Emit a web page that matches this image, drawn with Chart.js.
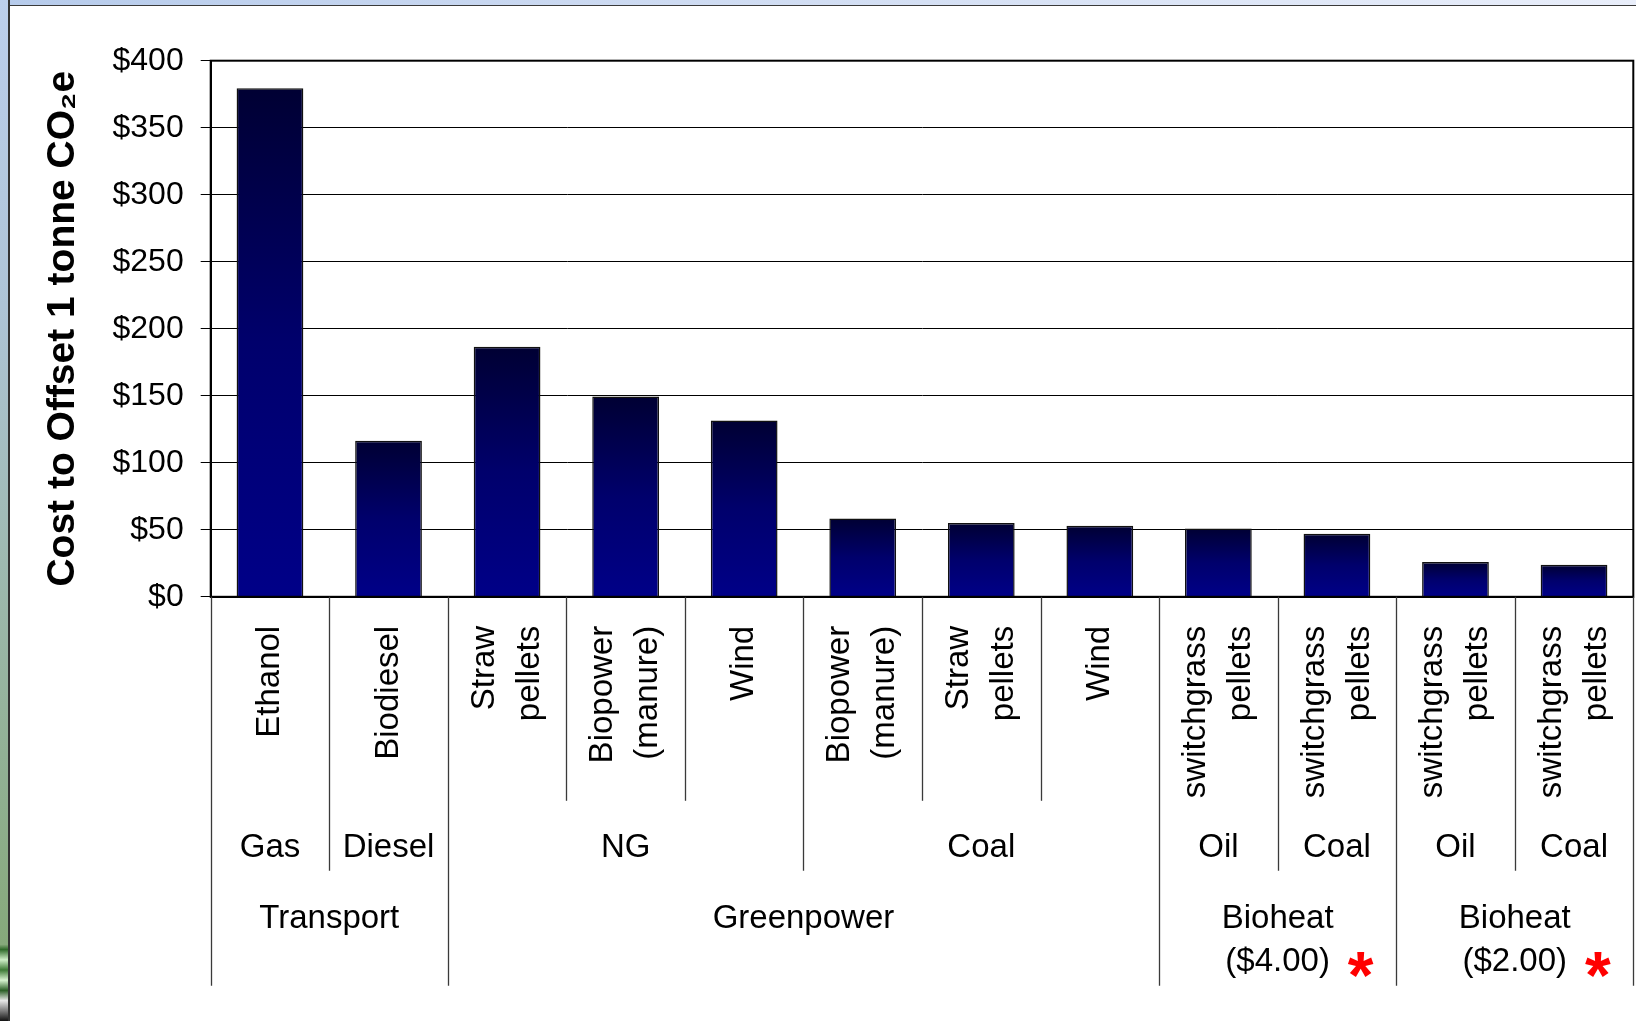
<!DOCTYPE html>
<html lang="en">
  <head>
    <meta charset="UTF-8" />
    <title>Cost to Offset 1 tonne CO2e</title>
    <script src="https://cdn.jsdelivr.net/npm/chart.js"></script>
    <style>
        html, body {
            margin: 0;
            padding: 0;
        }
        body {
            width: 1636px;
            height: 1021px;
            position: relative;
            overflow: hidden;
            background: #fff;
        }
        .slide-top {
            position: absolute;
            left: 0;
            top: 0;
            width: 1636px;
            height: 5px;
            background: linear-gradient(90deg, #b6cbeb 0%, #cbd9f1 35%, #e9eefa 100%);
            border-bottom: 1.5px solid #3a3a3a;
        }
        .slide-left {
            position: absolute;
            left: 0;
            top: 0;
            width: 8px;
            height: 1021px;
            background: linear-gradient(180deg, #bccfec 0%, #aec4d6 30%, #9bb7a9 60%, #86a97b 92.5%,
                #2f6a2a 93%, #cfeec8 94%, #3d7a35 95%, #d8f3d0 96%, #2b5f26 97%, #e8e8e8 98%, #111 100%);
            border-right: 2px solid #333;
        }
        .chart-box {
            position: absolute;
            left: 0;
            top: 0;
            width: 1636px;
            height: 1021px;
        }
    </style>
  </head>

  <body>
    <div class="slide-top"></div>
    <div class="slide-left"></div>
    <div class="chart-box">
        <canvas id="offsetChart"></canvas>
    </div>

    <script>
        // Chart data
        const products = [
            ['Ethanol'], ['Biodiesel'],
            ['Straw', 'pellets'], ['Biopower', '(manure)'], ['Wind'],
            ['Biopower', '(manure)'], ['Straw', 'pellets'], ['Wind'],
            ['switchgrass', 'pellets'], ['switchgrass', 'pellets'],
            ['switchgrass', 'pellets'], ['switchgrass', 'pellets']
        ];
        const fuels = ['Gas', 'Diesel', 'NG', 'NG', 'NG', 'Coal', 'Coal', 'Coal', 'Oil', 'Coal', 'Oil', 'Coal'];
        const sectors = [
            'Transport', 'Transport',
            'Greenpower', 'Greenpower', 'Greenpower', 'Greenpower', 'Greenpower', 'Greenpower',
            'Bioheat\n($4.00)', 'Bioheat\n($4.00)', 'Bioheat\n($2.00)', 'Bioheat\n($2.00)'
        ];
        const starredSectors = ['Bioheat\n($4.00)', 'Bioheat\n($2.00)'];
        const costs = [379.5, 116.5, 186.5, 149.5, 131.5, 58.5, 55, 53, 51, 47, 26, 24];
        const yTicks = [0, 50, 100, 150, 200, 250, 300, 350, 400];

        const FONT = '"Liberation Sans", Arial, sans-serif';
        Chart.defaults.font.family = FONT;
        Chart.defaults.color = '#000';

        // group neighbouring categories that share a key
        function spans(keys) {
            const out = [];
            keys.forEach((k, i) => {
                const last = out[out.length - 1];
                if (last && last.key === k) last.end = i;
                else out.push({ key: k, start: i, end: i });
            });
            return out;
        }
        const fuelKeys = fuels.map((f, i) => sectors[i] + '|' + f);

        // dark-top to navy-bottom fill, one gradient per bar
        function barFill(context) {
            const chart = context.chart;
            const y = chart.scales.y;
            if (!chart.chartArea || !y) return '#000080';
            const top = y.getPixelForValue(context.raw);
            const base = y.getPixelForValue(0);
            const g = chart.ctx.createLinearGradient(0, top, 0, base);
            g.addColorStop(0, '#000033');
            g.addColorStop(0.5, '#00006c');
            g.addColorStop(1, '#000088');
            return g;
        }

        // plot outline
        const plotFrame = {
            id: 'plotFrame',
            afterDraw(chart) {
                const { ctx, chartArea: a } = chart;
                ctx.save();
                ctx.strokeStyle = '#000';
                ctx.lineWidth = 2;
                ctx.strokeRect(a.left, a.top, a.right - a.left, a.bottom - a.top);
                ctx.restore();
            }
        };

        // Excel-like multi-level category axis
        const categoryAxis = {
            id: 'categoryAxis',
            afterDraw(chart) {
                const { ctx, scales: { x } } = chart;
                const n = products.length;
                const base = chart.chartArea.bottom;
                const step = x.getPixelForValue(1) - x.getPixelForValue(0);
                const edge = i => x.getPixelForValue(0) + (i - 0.5) * step;
                const depth = [base + 204, base + 274, base + 389];

                ctx.save();
                ctx.strokeStyle = '#3a3a3a';
                ctx.lineWidth = 1.3;
                for (let b = 0; b <= n; b++) {
                    let lvl = 0;
                    if (b === 0 || b === n || sectors[b] !== sectors[b - 1]) lvl = 2;
                    else if (fuelKeys[b] !== fuelKeys[b - 1]) lvl = 1;
                    const px = Math.round(edge(b)) + 0.5;
                    ctx.beginPath();
                    ctx.moveTo(px, base);
                    ctx.lineTo(px, depth[lvl]);
                    ctx.stroke();
                }

                ctx.fillStyle = '#000';
                ctx.font = '33px ' + FONT;

                // product names, rotated
                products.forEach((lines, i) => {
                    const cx = x.getPixelForValue(i);
                    lines.forEach((line, k) => {
                        ctx.save();
                        ctx.translate(cx + (k - (lines.length - 1) / 2) * 45, base + 29);
                        ctx.rotate(-Math.PI / 2);
                        ctx.textAlign = 'right';
                        ctx.textBaseline = 'middle';
                        ctx.fillText(line, 0, 0);
                        ctx.restore();
                    });
                });

                ctx.textAlign = 'center';
                ctx.textBaseline = 'middle';

                // fuel being replaced
                spans(fuelKeys).forEach(s => {
                    const cx = (edge(s.start) + edge(s.end + 1)) / 2;
                    ctx.fillText(s.key.split('|')[1], cx, base + 251);
                });

                // sectors
                spans(sectors).forEach(s => {
                    const cx = (edge(s.start) + edge(s.end + 1)) / 2;
                    s.key.split('\n').forEach((line, k) => {
                        ctx.fillText(line, cx, base + 322 + k * 43);
                    });
                    if (starredSectors.includes(s.key)) {
                        ctx.save();
                        ctx.fillStyle = '#ff0000';
                        ctx.font = 'bold 66px ' + FONT;
                        ctx.textBaseline = 'alphabetic';
                        ctx.fillText('*', cx + 83, base + 401);
                        ctx.restore();
                    }
                });
                ctx.restore();
            }
        };

        const chartCtx = document.getElementById('offsetChart').getContext('2d');
        new Chart(chartCtx, {
            type: 'bar',
            data: {
                labels: products.map(p => p.join(' ')),
                datasets: [{
                    label: 'Cost to offset 1 tonne CO2e',
                    data: costs,
                    backgroundColor: barFill,
                    borderColor: '#111',
                    borderWidth: 1.5,
                    barPercentage: 0.563,
                    categoryPercentage: 1
                }]
            },
            options: {
                responsive: true,
                maintainAspectRatio: false,
                animation: false,
                layout: {
                    padding: { left: 10, top: 60.7, right: 2.7, bottom: 0 }
                },
                plugins: {
                    legend: { display: false },
                    tooltip: { enabled: false }
                },
                scales: {
                    x: {
                        ticks: { display: false },
                        grid: { display: false },
                        border: { display: true, color: '#000', width: 2 },
                        afterFit: s => { s.height = 424.2; }
                    },
                    y: {
                        min: 0,
                        max: 400,
                        afterBuildTicks: s => { s.ticks = yTicks.map(v => ({ value: v })); },
                        ticks: {
                            padding: 17,
                            color: '#000',
                            font: { size: 32 },
                            callback: v => '$' + v
                        },
                        grid: { color: '#000', lineWidth: 1, tickLength: 10, drawTicks: true },
                        border: { display: true, color: '#000', width: 2 },
                        title: {
                            display: true,
                            text: 'Cost to Offset 1 tonne CO₂e',
                            color: '#000',
                            font: { size: 39, weight: 'bold' },
                            padding: { top: 30, bottom: 0 }
                        },
                        afterFit: s => { s.width = 200.7; }
                    }
                }
            },
            plugins: [plotFrame, categoryAxis]
        });
    </script>
  </body>
</html>
